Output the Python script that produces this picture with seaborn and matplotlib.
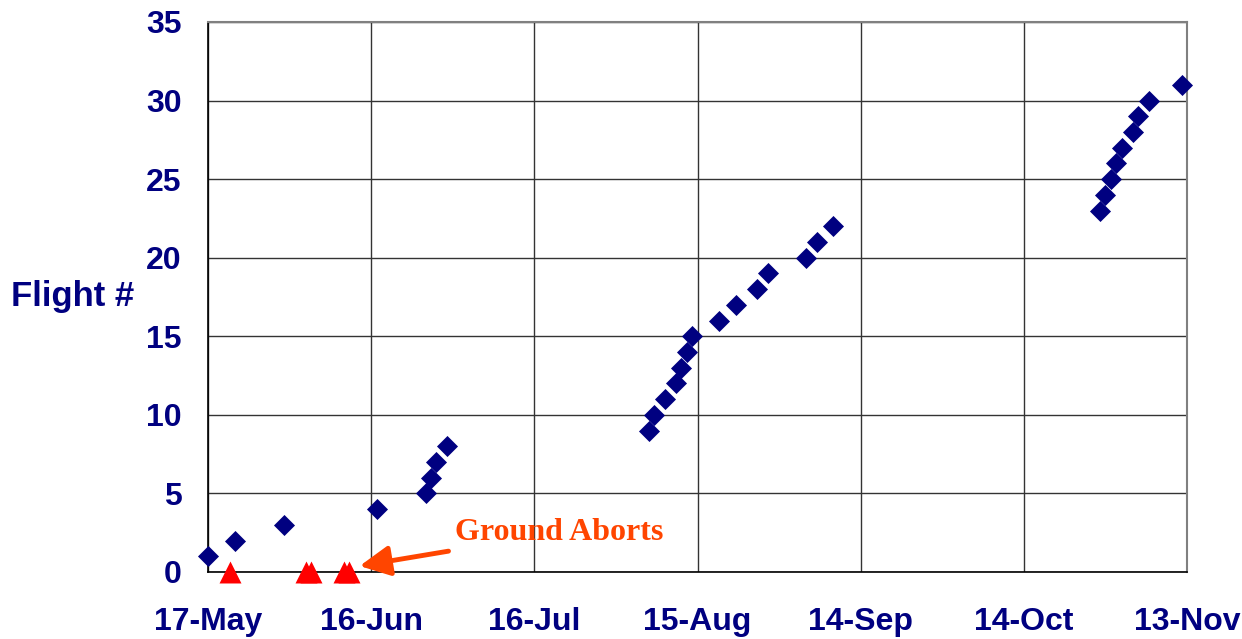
import pandas as pd
import seaborn as sns
import matplotlib.pyplot as plt
import matplotlib.dates as mdates

# flight dates (year is arbitrary, only day-month shown)
flight_dates = ['2003-05-17', '2003-05-22', '2003-05-31', '2003-06-17', '2003-06-26',
                '2003-06-27', '2003-06-28', '2003-06-30', '2003-08-06', '2003-08-07',
                '2003-08-09', '2003-08-11', '2003-08-12', '2003-08-13', '2003-08-14',
                '2003-08-19', '2003-08-22', '2003-08-26', '2003-08-28', '2003-09-04',
                '2003-09-06', '2003-09-09', '2003-10-28', '2003-10-29', '2003-10-30',
                '2003-10-31', '2003-11-01', '2003-11-03', '2003-11-04', '2003-11-06',
                '2003-11-12']
flight_num = list(range(1, 32))

abort_dates = ['2003-05-21', '2003-06-04', '2003-06-05', '2003-06-11', '2003-06-12']
abort_vals = [0, 0, 0, 0, 0]

tick_dates = ['2003-05-17', '2003-06-16', '2003-07-16', '2003-08-15',
              '2003-09-14', '2003-10-14', '2003-11-13']

navy = '#000080'
orange = '#ff4500'

flights = pd.DataFrame({'date': pd.to_datetime(flight_dates), 'flight': flight_num})
aborts = pd.DataFrame({'date': pd.to_datetime(abort_dates), 'flight': abort_vals})

sns.set_style('white')
plt.rcParams['font.family'] = ['Liberation Sans', 'DejaVu Sans']

fig = plt.figure(figsize=(12.42, 6.39), dpi=100)
ax = fig.add_axes([0.1675, 0.1049, 0.9557 - 0.1675, 0.9656 - 0.1049])

sns.scatterplot(data=flights, x='date', y='flight', marker='D', s=115,
                color=navy, edgecolor=navy, linewidth=0, ax=ax, zorder=3, clip_on=False)
sns.scatterplot(data=aborts, x='date', y='flight', marker='^', s=250,
                color='#ff0000', edgecolor='#ff0000', linewidth=0, ax=ax, zorder=3, clip_on=False)

ticks = pd.to_datetime(tick_dates)
ax.set_xlim(ticks[0], ticks[-1])
ax.set_ylim(0, 35)
ax.set_xticks(ticks)
ax.xaxis.set_major_formatter(mdates.DateFormatter('%-d-%b'))
ax.set_yticks(range(0, 36, 5))

ax.grid(True, color='#333333', linewidth=1)
ax.set_axisbelow(True)
for side in ['top', 'right']:
    ax.spines[side].set_color('#808080')
    ax.spines[side].set_linewidth(1.5)
for side in ['left', 'bottom']:
    ax.spines[side].set_color('black')
    ax.spines[side].set_linewidth(1.2)

ax.tick_params(axis='both', direction='out', length=8, width=1.2, color='#666666',
               labelsize=23, labelcolor=navy)
for lbl in ax.get_xticklabels() + ax.get_yticklabels():
    lbl.set_fontweight('bold')
ax.tick_params(axis='x', pad=17)
ax.tick_params(axis='y', pad=11)

ax.set_xlabel('')
ax.set_ylabel('Flight #', fontsize=25, fontweight='bold', color=navy,
              rotation=0, ha='left', va='center')
ax.yaxis.set_label_coords(-0.2015, 0.50)

ax.annotate('Ground Aborts', xy=(pd.Timestamp('2003-06-13 21:00'), 0.38),
            xytext=(pd.Timestamp('2003-07-01 09:00'), 2.5),
            fontsize=23, fontweight='bold', color=orange,
            family=['Liberation Serif', 'DejaVu Serif'], va='center', ha='left',
            arrowprops=dict(arrowstyle='-|>', color=orange, lw=3.5,
                            mutation_scale=46, shrinkA=3, shrinkB=0))

fig.savefig('out.png', dpi=100)
